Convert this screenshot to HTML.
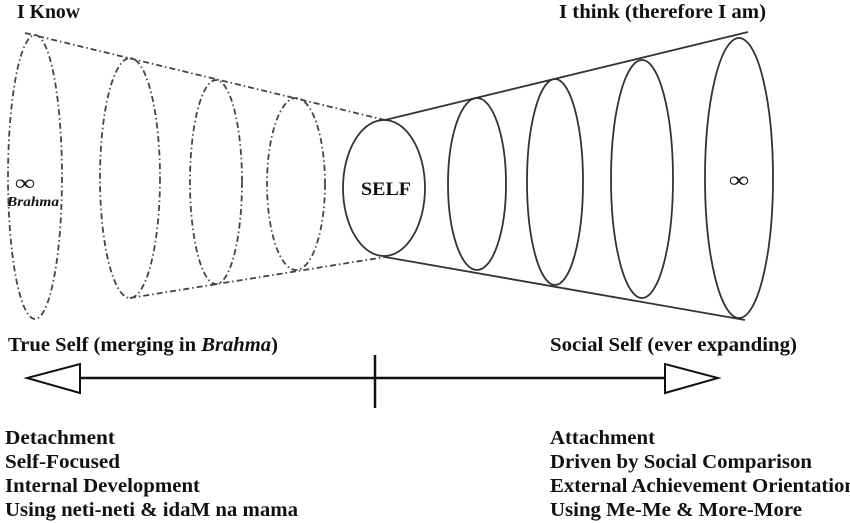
<!DOCTYPE html>
<html><head><style>
html,body{margin:0;padding:0;background:#fff;}
svg{display:block;}
text{font-family:"Liberation Serif","Times New Roman",serif;font-weight:bold;fill:#111;}
</style></head><body>
<svg width="850" height="523" viewBox="0 0 850 523" xmlns="http://www.w3.org/2000/svg">
<g fill="none" stroke="#444" stroke-width="1.8" stroke-dasharray="6,3,1.5,3">
<ellipse cx="35" cy="177" rx="27" ry="142"/>
<ellipse cx="130" cy="178" rx="30" ry="120"/>
<ellipse cx="216" cy="182" rx="26" ry="102"/>
<ellipse cx="296" cy="184" rx="29" ry="86"/>
<line x1="25" y1="33" x2="385" y2="120"/>
<line x1="130" y1="298" x2="385" y2="257"/>
</g>
<g fill="none" stroke="#333" stroke-width="1.8">
<ellipse cx="384" cy="188" rx="41" ry="68"/>
<ellipse cx="477" cy="184" rx="29" ry="86"/>
<ellipse cx="555" cy="182" rx="28" ry="103"/>
<ellipse cx="642" cy="179" rx="31" ry="119"/>
<ellipse cx="739" cy="178" rx="34" ry="140"/>
<line x1="385" y1="120" x2="748" y2="32"/>
<line x1="385" y1="257" x2="745" y2="320"/>
</g>
<g stroke="#111" stroke-width="2.5" fill="none">
<line x1="80" y1="378" x2="665" y2="378"/>
<line x1="375" y1="355" x2="375" y2="408"/>
<polygon points="80,364 80,393 27,378" stroke-width="2"/>
<polygon points="665,364 665,393 718,378" stroke-width="2"/>
</g>
<text x="17" y="18" font-size="20" textLength="63" lengthAdjust="spacingAndGlyphs">I Know</text>
<text x="559" y="18" font-size="20" textLength="207" lengthAdjust="spacingAndGlyphs">I think (therefore I am)</text>
<text x="15" y="190" font-size="22" font-weight="normal" textLength="20" lengthAdjust="spacingAndGlyphs">∞</text>
<text x="7" y="206" font-size="14" font-style="italic" textLength="52" lengthAdjust="spacingAndGlyphs">Brahma</text>
<text x="361" y="195" font-size="19" textLength="50" lengthAdjust="spacingAndGlyphs">SELF</text>
<text x="729" y="187" font-size="22" font-weight="normal" textLength="20" lengthAdjust="spacingAndGlyphs">∞</text>
<text x="8" y="351" font-size="20" textLength="270" lengthAdjust="spacingAndGlyphs">True Self (merging in <tspan font-style="italic">Brahma</tspan>)</text>
<text x="550" y="351" font-size="20" textLength="247" lengthAdjust="spacingAndGlyphs">Social Self (ever expanding)</text>
<g font-size="20">
<text x="5" y="444" textLength="110" lengthAdjust="spacingAndGlyphs">Detachment</text>
<text x="5" y="468" textLength="115" lengthAdjust="spacingAndGlyphs">Self-Focused</text>
<text x="5" y="492" textLength="195" lengthAdjust="spacingAndGlyphs">Internal Development</text>
<text x="5" y="516" textLength="293" lengthAdjust="spacingAndGlyphs">Using neti-neti &amp; idaM na mama</text>
<text x="550" y="444" textLength="105" lengthAdjust="spacingAndGlyphs">Attachment</text>
<text x="550" y="468" textLength="262" lengthAdjust="spacingAndGlyphs">Driven by Social Comparison</text>
<text x="550" y="492" textLength="306" lengthAdjust="spacingAndGlyphs">External Achievement Orientation</text>
<text x="550" y="516" textLength="252" lengthAdjust="spacingAndGlyphs">Using Me-Me &amp; More-More</text>
</g>
</svg>
</body></html>
